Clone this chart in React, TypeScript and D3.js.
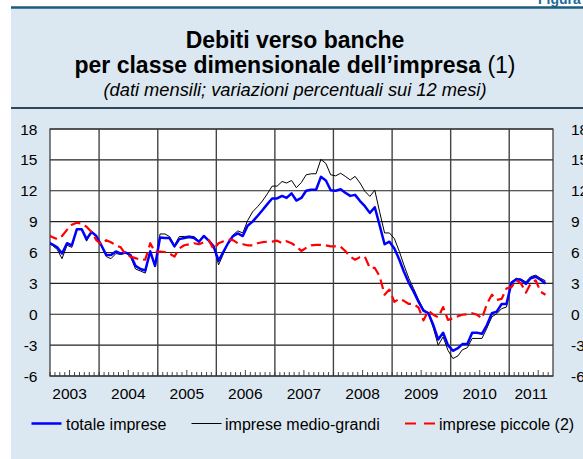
import React from "react";
import * as d3 from "d3";

// ---- Data (monthly, first value = Feb 2003, last = Aug 2011) ----
const firstMonth = "2003-02";
const totaleImprese = [
  7.0, 6.8, 6.5, 5.9, 6.9, 6.7, 8.25, 8.25, 7.3, 8.0,
  7.6, 6.7, 5.75, 5.75, 6.1, 5.9, 6.0, 5.75, 4.7, 4.4,
  4.25, 6.1, 4.7, 7.45, 7.4, 7.4, 6.6, 7.3, 7.4, 7.5,
  7.4, 7.05, 7.6, 7.15, 6.6, 5.2, 6.1, 6.9, 7.6, 7.85,
  7.6, 8.6, 9.0, 9.55, 10.1, 10.7, 11.25, 11.25, 11.5, 11.3,
  11.75, 11.05, 11.3, 12.0, 12.1, 12.1, 13.35, 13.0, 12.05, 12.0,
  12.15, 11.8, 11.5, 11.6, 11.0, 10.5, 9.85, 10.4, 8.65, 6.8,
  7.05, 6.4, 5.3, 4.15, 3.05, 2.2, 1.2, 0.35, 0.1, -1.05,
  -2.45, -1.8, -3.0, -3.55, -3.3, -2.9, -2.9, -1.8, -1.8, -1.9,
  -1.05, 0.1, 0.25, 1.0, 1.0, 3.05, 3.4, 3.35, 2.95, 3.5,
  3.65, 3.35, 3.0,
];
const impreseMedioGrandi = [
  6.9, 6.7, 6.3, 5.4, 6.7, 6.5, 8.25, 8.25, 7.1, 8.0,
  7.6, 6.7, 5.6, 5.4, 5.9, 5.8, 5.95, 5.6, 4.4, 4.2,
  4.0, 6.2, 4.6, 7.8, 7.8, 7.55, 6.7, 7.55, 7.55, 7.6,
  7.55, 7.1, 7.7, 7.2, 6.6, 4.8, 5.9, 6.9, 7.7, 8.1,
  7.9, 9.1, 9.95, 10.45, 11.0, 11.7, 12.45, 12.45, 12.9, 12.75,
  13.0, 12.3, 12.8, 13.55, 13.65, 13.65, 15.05, 14.65, 13.55, 13.45,
  13.7, 13.4, 13.05, 13.4, 12.75, 11.95, 11.45, 12.05, 9.95, 7.9,
  7.9, 7.35, 6.1, 4.8, 3.5, 2.5, 1.4, 0.5, 0.05, -1.35,
  -3.0, -2.2, -3.5, -4.3, -4.05, -3.45, -3.25, -2.35, -2.35, -2.35,
  -1.35, -0.25, 0.05, 0.55, 0.7, 3.15, 3.5, 3.4, 3.15, 3.65,
  3.8, 3.5, 3.25,
];
const impresePiccole = [
  7.7, 7.5, 7.3, 7.6, 8.2, 8.7, 8.9, 8.8, 8.5, 8.0,
  7.2, 6.8, 7.2, 7.0, 6.7, 6.5, 5.8, 5.6, 5.45, 5.3,
  5.3, 6.9, 6.05, 6.1, 6.05, 5.9, 5.6, 6.4, 6.7, 6.8,
  6.9, 6.8, 7.0, 7.2, 6.3, 6.9, 7.1, 7.25, 7.2, 6.9,
  6.8, 6.7, 6.7, 6.9, 7.0, 7.05, 7.05, 7.15, 6.9, 7.1,
  6.9, 6.6, 6.15, 6.45, 6.7, 6.75, 6.75, 6.7, 6.6, 6.6,
  6.55, 6.15, 5.6, 5.3, 5.55, 5.6, 4.5, 4.5, 3.7, 1.9,
  2.4, 1.2, 1.5, 1.3, 1.0, 1.0, 0.65, -0.6, 0.35, -0.05,
  -0.3, 0.7, -0.55, -0.4, -0.2, -0.05, 0.0, 0.1, -0.05, -0.4,
  1.0, 1.9, 1.4, 1.5, 2.5, 2.65, 3.3, 3.0, 2.1, 3.0,
  3.3, 2.2, 1.9,
];
const yearLabels = ["2003", "2004", "2005", "2006", "2007", "2008", "2009", "2010", "2011"];
const yTicks = [-6, -3, 0, 3, 6, 9, 12, 15, 18];
const axisStart = "2003-03-01";
const axisEnd = "2011-10-01";

const titleLine1 = "Debiti verso banche";
const titleLine2 = "per classe dimensionale dell\u2019impresa";
const titleNote = " (1)";
const subtitle = "(dati mensili; variazioni percentuali sui 12 mesi)";
const legendLabels = ["totale imprese", "imprese medio-grandi", "imprese piccole (2)"];

const W = 583;
const H = 459;
const FONT = "'Liberation Sans', Arial, Helvetica, sans-serif";

export default function App() {
  const left = 50, right = 553, top = 129, bottom = 376;
  const parse = d3.timeParse("%Y-%m-%d");
  const x = d3.scaleTime().domain([parse(axisStart)!, parse(axisEnd)!]).range([left, right]);
  const y = d3.scaleLinear().domain([-6, 18]).range([bottom, top]);

  const m0 = d3.timeParse("%Y-%m")(firstMonth)!;
  const dateOf = (i: number) => {
    const d = d3.timeMonth.offset(m0, i);
    return new Date(d.getFullYear(), d.getMonth(), 15);
  };

  const line = d3
    .line<number>()
    .x((_, i) => x(dateOf(i)))
    .y((v) => y(v));

  const months = d3.timeMonth.range(parse(axisStart)!, parse(axisEnd)!);
  const years = yearLabels.map((s) => +s);
  const yearStarts = years.slice(1).map((yr) => new Date(yr, 0, 1));
  const domEnd = parse(axisEnd)!;

  const labelX = (yr: number) => {
    const mid = x(new Date(yr, 6, 1));
    const alt = (x(new Date(yr, 0, 1)) + x(domEnd)) / 2;
    return Math.min(mid, alt);
  };

  const blue = "#0000ff";
  const red = "#ff0000";
  const cx = 295;

  return (
    <div style={{ position: "absolute", left: 0, top: 0 }}>
      <svg width={W} height={H} style={{ display: "block" }} fontFamily={FONT}>
        <rect x={0} y={0} width={W} height={H} fill="#ffffff" />
        <text x={538} y={4} fontSize={14} fontWeight="bold" fill="#1d6a9c">Figura 2.4</text>
        <rect x={11} y={8} width={W - 11} height={H - 8} fill="#dce8f1" />
        <line x1={11} x2={W} y1={7.5} y2={7.5} stroke="#1b5d7a" strokeWidth={2.5} />
        <line x1={11} x2={W} y1={108} y2={108} stroke="#2c4a5a" strokeWidth={2} />

        <text x={cx} y={47.5} textAnchor="middle" fontSize={23} fontWeight="bold" fill="#000">
          {titleLine1}
        </text>
        <text x={cx} y={73} textAnchor="middle" fontSize={23} fill="#000">
          <tspan fontWeight="bold">{titleLine2}</tspan>
          <tspan>{titleNote}</tspan>
        </text>
        <text x={cx} y={95.5} textAnchor="middle" fontSize={18.3} fontStyle="italic" fill="#000">
          {subtitle}
        </text>

        <defs>
          <clipPath id="plotClip">
            <rect x={left} y={top} width={right - left} height={bottom - top} />
          </clipPath>
        </defs>

        <rect x={left} y={top} width={right - left} height={bottom - top} fill="#ffffff" />

        {yTicks.map((t) => (
          <line key={"h" + t} x1={left} x2={right} y1={y(t)} y2={y(t)} stroke="#222" strokeWidth={1.1} />
        ))}
        {yearStarts.map((d, i) => (
          <line key={"v" + i} x1={x(d)} x2={x(d)} y1={top} y2={bottom} stroke="#444" strokeWidth={1.4} />
        ))}
        {months.map((d, i) => (
          <line
            key={"m" + i}
            x1={x(d)}
            x2={x(d)}
            y1={bottom}
            y2={bottom - (d.getMonth() === 6 ? 6 : 4)}
            stroke="#333"
            strokeWidth={0.9}
          />
        ))}
        <rect x={left} y={top} width={right - left} height={bottom - top} fill="none" stroke="#333" strokeWidth={1.2} />

        <g clipPath="url(#plotClip)" fill="none" strokeLinejoin="round">
          <path d={line(impreseMedioGrandi) || ""} stroke="#000" strokeWidth={1} />
          <path d={line(totaleImprese) || ""} stroke={blue} strokeWidth={2.5} />
          <path d={line(impresePiccole) || ""} stroke={red} strokeWidth={2.2} strokeDasharray="10,5" />
        </g>

        {yTicks.map((t) => (
          <text key={"yl" + t} x={37.5} y={y(t) + 5.5} textAnchor="end" fontSize={15.5} fill="#000">
            {t}
          </text>
        ))}
        {yTicks.map((t) => (
          <text key={"yr" + t} x={571} y={y(t) + 5.5} textAnchor="start" fontSize={15.5} fill="#000">
            {t}
          </text>
        ))}
        {years.map((yr, i) => (
          <text key={"xl" + yr} x={labelX(yr)} y={398.5} textAnchor="middle" fontSize={15.5} fill="#000">
            {yearLabels[i]}
          </text>
        ))}

        <g fontSize={16} fill="#000">
          <line x1={31.5} x2={61.5} y1={423.5} y2={423.5} stroke={blue} strokeWidth={2.5} />
          <text x={66} y={429.5}>{legendLabels[0]}</text>
          <line x1={191.5} x2={221.5} y1={423.5} y2={423.5} stroke="#000" strokeWidth={1} />
          <text x={225} y={429.5}>{legendLabels[1]}</text>
          <line x1={405} x2={437} y1={423.5} y2={423.5} stroke={red} strokeWidth={2.2} strokeDasharray="11,8" />
          <text x={439} y={429.5}>{legendLabels[2]}</text>
        </g>
      </svg>
    </div>
  );
}
